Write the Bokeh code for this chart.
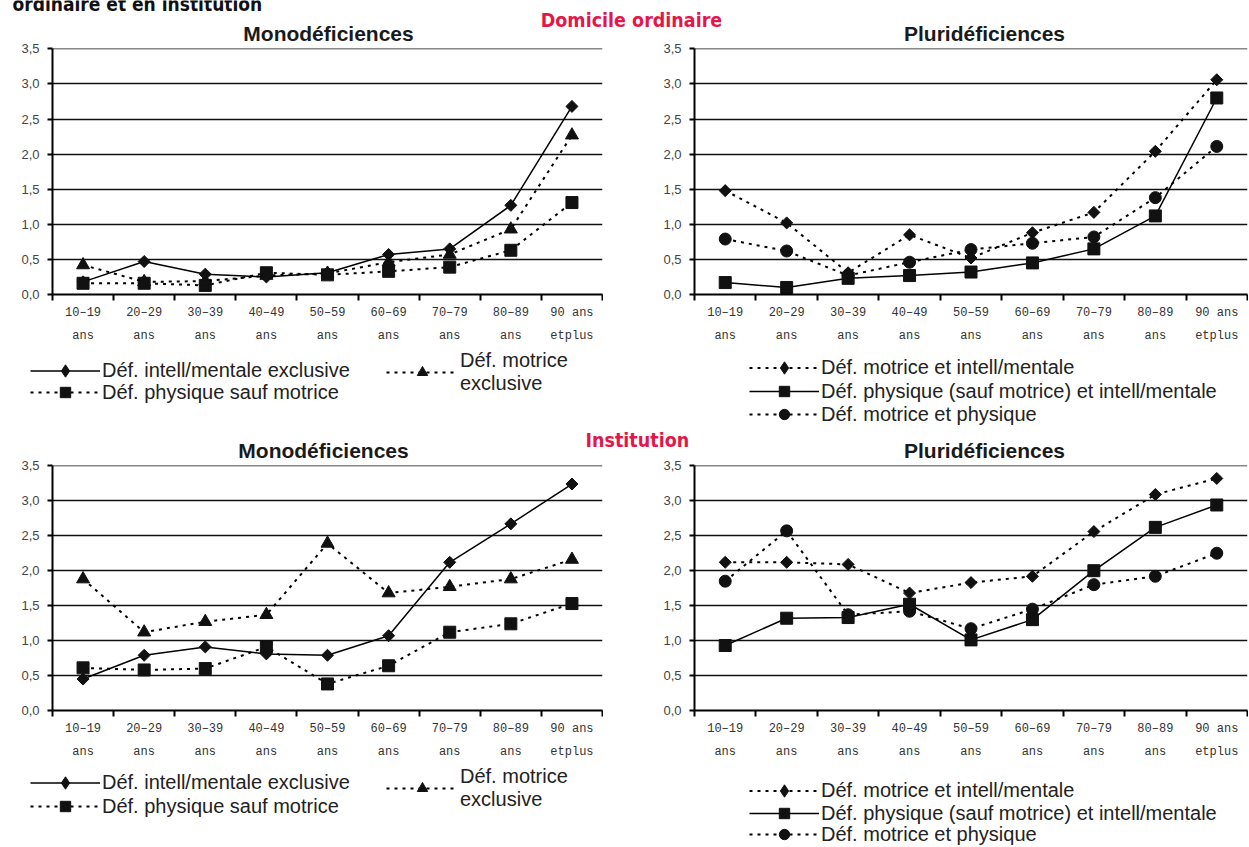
import math
from bokeh.plotting import figure
from bokeh.models import (Range1d, FixedTicker, CustomJSTickFormatter, Label,
                          Legend, LegendItem, ColumnDataSource)
from bokeh.layouts import column, row
from bokeh.embed import file_html
from bokeh.resources import INLINE
from bokeh.core.properties import value

# ---------------- data ----------------
categories = ["10–19\nans", "20–29\nans", "30–39\nans", "40–49\nans", "50–59\nans",
              "60–69\nans", "70–79\nans", "80–89\nans", "90 ans\netplus"]
y_ticks = [0.0, 0.5, 1.0, 1.5, 2.0, 2.5, 3.0, 3.5]

# Domicile ordinaire - Monodéficiences
dom_intell_excl = [0.18, 0.47, 0.29, 0.25, 0.31, 0.57, 0.65, 1.27, 2.68]
dom_motrice_excl = [0.42, 0.18, 0.19, 0.27, 0.30, 0.46, 0.57, 0.93, 2.27]
dom_physique_excl = [0.16, 0.16, 0.13, 0.31, 0.28, 0.33, 0.39, 0.63, 1.31]

# Domicile ordinaire - Pluridéficiences
dom_motrice_intell = [1.48, 1.02, 0.31, 0.85, 0.52, 0.88, 1.17, 2.04, 3.06]
dom_physique_intell = [0.17, 0.10, 0.23, 0.27, 0.32, 0.45, 0.65, 1.12, 2.80]
dom_motrice_physique = [0.79, 0.62, 0.27, 0.46, 0.64, 0.73, 0.82, 1.38, 2.11]

# Institution - Monodéficiences
ins_intell_excl = [0.45, 0.79, 0.91, 0.81, 0.79, 1.07, 2.12, 2.67, 3.24]
ins_motrice_excl = [1.88, 1.12, 1.27, 1.37, 2.39, 1.68, 1.77, 1.88, 2.16]
ins_physique_excl = [0.61, 0.58, 0.60, 0.91, 0.38, 0.64, 1.12, 1.24, 1.53]

# Institution - Pluridéficiences
ins_motrice_intell = [2.12, 2.12, 2.09, 1.68, 1.83, 1.92, 2.56, 3.09, 3.32]
ins_physique_intell = [0.93, 1.32, 1.33, 1.52, 1.01, 1.30, 2.00, 2.62, 2.94]
ins_motrice_physique = [1.85, 2.57, 1.37, 1.42, 1.17, 1.45, 1.80, 1.92, 2.25]

lbl_intell_excl = "Déf. intell/mentale exclusive"
lbl_motrice_excl = "Déf. motrice\nexclusive"
lbl_physique_excl = "Déf. physique sauf motrice"
lbl_motrice_intell = "Déf. motrice et intell/mentale"
lbl_physique_intell = "Déf. physique (sauf motrice) et intell/mentale"
lbl_motrice_physique = "Déf. motrice et physique"

# ---------------- styles ----------------
N = len(categories)
XPOS = [i + 0.5 for i in range(N)]
LEG_FONT = "Liberation Sans"
HEAD_FONT = "DejaVu Sans Condensed"
RED = "#E3174B"
DASH = "3 5"
ROT = math.pi / 4
W_LEFT, W_RIGHT, W_ALL = 603, 645, 1248


def make_panel(w, h, top, bottom, left, right):
    p = figure(width=w, height=h, x_range=Range1d(0, N), y_range=Range1d(0, 3.505),
               toolbar_location=None, output_backend="svg", title=None,
               min_border_top=top, min_border_bottom=bottom,
               min_border_left=left, min_border_right=right)
    p.outline_line_color = None
    xa = p.xaxis[0]
    xa.ticker = FixedTicker(ticks=XPOS, minor_ticks=list(range(N + 1)))
    xa.formatter = CustomJSTickFormatter(args=dict(cats=categories),
                                         code="return cats[Math.round(tick - 0.5)];")
    xa.axis_line_color = "black"
    xa.axis_line_width = 2
    xa.major_tick_line_color = None
    xa.major_tick_out = 0
    xa.major_tick_in = 0
    xa.minor_tick_line_color = "black"
    xa.minor_tick_line_width = 2
    xa.minor_tick_out = 6
    xa.minor_tick_in = 0
    xa.major_label_text_font = "Liberation Mono"
    xa.major_label_text_font_size = "12px"
    xa.major_label_text_color = "#333333"
    xa.major_label_text_line_height = 1.7
    xa.major_label_standoff = 5
    ya = p.yaxis[0]
    ya.ticker = FixedTicker(ticks=y_ticks, minor_ticks=[])
    ya.formatter = CustomJSTickFormatter(code="return tick.toFixed(1).replace('.', ',');")
    ya.axis_line_color = "black"
    ya.axis_line_width = 2
    ya.major_tick_line_color = "black"
    ya.major_tick_line_width = 2
    ya.major_tick_out = 5
    ya.major_tick_in = 0
    ya.minor_tick_line_color = None
    ya.major_label_text_font = "Liberation Sans"
    ya.major_label_text_font_size = "13px"
    ya.major_label_text_color = "#444444"
    ya.major_label_standoff = 8
    p.xgrid.visible = False
    p.ygrid.ticker = FixedTicker(ticks=y_ticks, minor_ticks=[])
    p.ygrid.grid_line_color = "#111111"
    p.ygrid.grid_line_width = 1.6
    return p


def text_fig(w, h):
    f = figure(width=w, height=h, x_range=Range1d(0, 1), y_range=Range1d(0, 1),
               x_axis_location=None, y_axis_location=None, min_border=0,
               toolbar_location=None, output_backend="svg", title=None)
    f.outline_line_color = None
    f.grid.visible = False
    return f


def style_kw(marker, dashed, legend=False):
    line_kw = dict(line_color="black", line_width=2, line_dash=DASH) if dashed else \
        dict(line_color="black", line_width=1.5)
    if marker == "diamond":
        sc_kw = dict(marker="diamond", size=12) if legend else \
            dict(marker="square", angle=ROT, size=8.5)
    elif marker == "triangle":
        sc_kw = dict(marker="triangle", size=13)
    else:
        sc_kw = dict(marker=marker, size=12)
    sc_kw.update(fill_color="#111111", line_color="#111111")
    return line_kw, sc_kw


def add_series(p, vals, marker, dashed):
    src = ColumnDataSource(dict(x=XPOS, y=vals))
    line_kw, sc_kw = style_kw(marker, dashed)
    p.line("x", "y", source=src, **line_kw)
    p.scatter("x", "y", source=src, **sc_kw)


# legend sample glyphs live outside the visible range of the legend strips
OFF = dict(x=[-5.0, -4.0], y=[-5.0, -4.0])


def add_legend_item(f, fleft, ftop, fh, label, marker, dashed, gx, cy, gw=70, lh=26):
    line_kw, sc_kw = style_kw(marker, dashed, legend=True)
    src = ColumnDataSource(OFF)
    lr = f.line("x", "y", source=src, **line_kw)
    sr = f.scatter("x", "y", source=src, **sc_kw)
    gh = 31 if marker == "diamond" else 26
    ih = max(gh, lh)
    leg = Legend(items=[LegendItem(label=value(label), renderers=[lr, sr])],
                 location=(gx - fleft, (ftop + fh) - cy - ih / 2), orientation="vertical",
                 padding=0, margin=0, spacing=0,
                 glyph_width=gw, glyph_height=gh, label_height=lh, label_standoff=2,
                 label_text_font=LEG_FONT, label_text_font_size="20px",
                 label_text_color="#222222", label_text_line_height=1.2,
                 border_line_alpha=0, background_fill_alpha=0)
    f.add_layout(leg)


def add_text(f, fleft, ftop, fh, text, px, baseline_y, fs, color, font, align="left"):
    f.add_layout(Label(x=px - fleft, y=(ftop + fh) - baseline_y + 0.35 * fs,
                       x_units="screen", y_units="screen", text=text,
                       text_font=font, text_font_style="bold",
                       text_font_size=f"{fs}px", text_color=color,
                       text_align=align, text_baseline="middle"))


# ---------------- header (y 0..41) ----------------
H_TOP, H_H = 0, 41
header = text_fig(W_ALL, H_H)
add_text(header, 0, H_TOP, H_H, "ordinaire et en institution", 12, 10, 19, "#111111", HEAD_FONT)
add_text(header, 0, H_TOP, H_H, "Domicile ordinaire", 631, 27, 19.5, RED, HEAD_FONT, "center")
add_text(header, 0, H_TOP, H_H, "Monodéficiences", 328, 40, 21, "#1a1a1a", "Liberation Sans", "center")
add_text(header, 0, H_TOP, H_H, "Pluridéficiences", 984, 40, 21, "#1a1a1a", "Liberation Sans", "center")

# ---------------- row 1 panels (y 41..350) ----------------
tl = make_panel(W_LEFT, 309, 7, 56, 52, 1)
add_series(tl, dom_physique_excl, "square", True)
add_series(tl, dom_motrice_excl, "triangle", True)
add_series(tl, dom_intell_excl, "diamond", False)

tr = make_panel(W_RIGHT, 309, 7, 56, 91, 1)
add_series(tr, dom_motrice_physique, "circle", True)
add_series(tr, dom_physique_intell, "square", False)
add_series(tr, dom_motrice_intell, "diamond", True)

# ---------------- row 1 legends (y 350..430) ----------------
L1_TOP, L1_H = 350, 80
ltl = text_fig(W_LEFT, L1_H)
add_legend_item(ltl, 0, L1_TOP, L1_H, lbl_intell_excl, "diamond", False, 30, 370)
add_legend_item(ltl, 0, L1_TOP, L1_H, lbl_physique_excl, "square", True, 30, 392)
add_legend_item(ltl, 0, L1_TOP, L1_H, lbl_motrice_excl, "triangle", True, 386, 372, gw=72, lh=48)
ltr = text_fig(W_RIGHT, L1_H)
add_legend_item(ltr, W_LEFT, L1_TOP, L1_H, lbl_motrice_intell, "diamond", True, 749, 367)
add_legend_item(ltr, W_LEFT, L1_TOP, L1_H, lbl_physique_intell, "square", False, 749, 391)
add_legend_item(ltr, W_LEFT, L1_TOP, L1_H, lbl_motrice_physique, "circle", True, 749, 414)

# ---------------- strip (y 430..458) ----------------
S_TOP, S_H = 430, 28
strip = text_fig(W_ALL, S_H)
add_text(strip, 0, S_TOP, S_H, "Institution", 585, 447, 19.5, RED, HEAD_FONT)
add_text(strip, 0, S_TOP, S_H, "Monodéficiences", 323, 457, 21, "#1a1a1a", "Liberation Sans", "center")
add_text(strip, 0, S_TOP, S_H, "Pluridéficiences", 984, 457, 21, "#1a1a1a", "Liberation Sans", "center")

# ---------------- row 2 panels (y 458..762) ----------------
bl = make_panel(W_LEFT, 304, 7, 50, 52, 1)
add_series(bl, ins_physique_excl, "square", True)
add_series(bl, ins_motrice_excl, "triangle", True)
add_series(bl, ins_intell_excl, "diamond", False)

br = make_panel(W_RIGHT, 304, 7, 50, 91, 1)
add_series(br, ins_motrice_physique, "circle", True)
add_series(br, ins_physique_intell, "square", False)
add_series(br, ins_motrice_intell, "diamond", True)

# ---------------- row 2 legends (y 762..847) ----------------
L2_TOP, L2_H = 762, 85
lbl_fig = text_fig(W_LEFT, L2_H)
add_legend_item(lbl_fig, 0, L2_TOP, L2_H, lbl_intell_excl, "diamond", False, 30, 782)
add_legend_item(lbl_fig, 0, L2_TOP, L2_H, lbl_physique_excl, "square", True, 30, 806)
add_legend_item(lbl_fig, 0, L2_TOP, L2_H, lbl_motrice_excl, "triangle", True, 386, 788, gw=72, lh=48)
lbr_fig = text_fig(W_RIGHT, L2_H)
add_legend_item(lbr_fig, W_LEFT, L2_TOP, L2_H, lbl_motrice_intell, "diamond", True, 749, 790)
add_legend_item(lbr_fig, W_LEFT, L2_TOP, L2_H, lbl_physique_intell, "square", False, 749, 813)
add_legend_item(lbr_fig, W_LEFT, L2_TOP, L2_H, lbl_motrice_physique, "circle", True, 749, 834)

layout = column(header, row(tl, tr), row(ltl, ltr), strip, row(bl, br), row(lbl_fig, lbr_fig))
open("out.html", "w").write(file_html(layout, INLINE))
